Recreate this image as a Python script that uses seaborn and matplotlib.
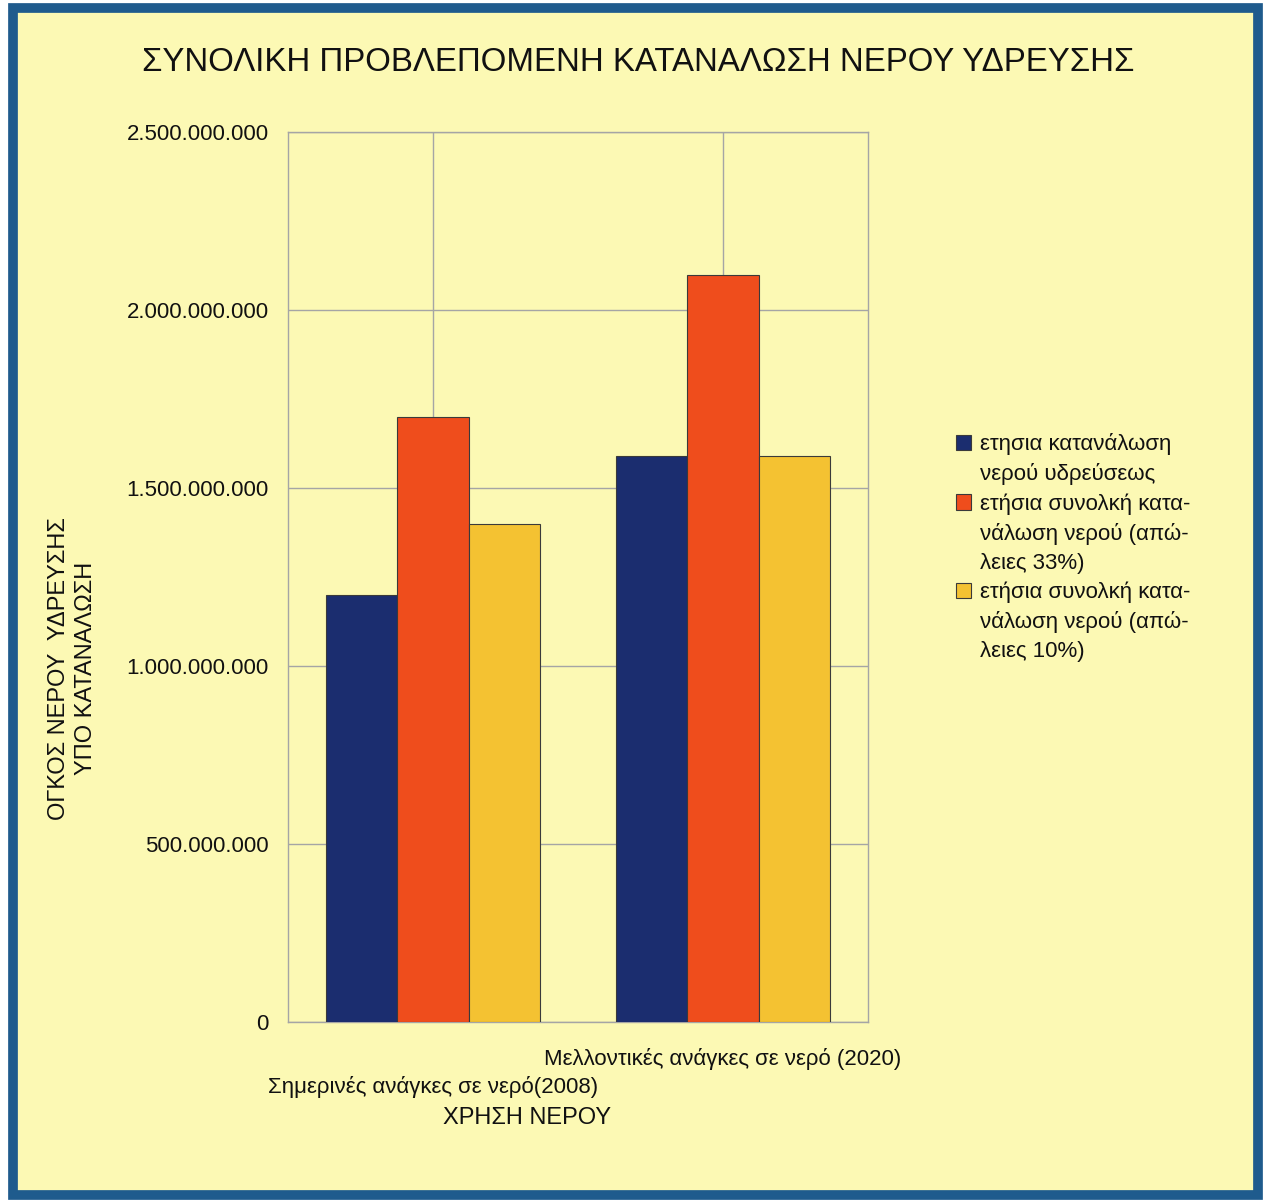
import pandas as pd
import numpy as np
import matplotlib.pyplot as plt
import seaborn as sns
from matplotlib.patches import Rectangle
from matplotlib.ticker import FuncFormatter

categories = ["Σημερινές ανάγκες σε νερό(2008)",
              "Μελλοντικές ανάγκες σε νερό (2020)"]
series = ["ετησια κατανάλωση\nνερού υδρεύσεως",
          "ετήσια συνολκή κατα-\nνάλωση νερού (απώ-\nλειες 33%)",
          "ετήσια συνολκή κατα-\nνάλωση νερού (απώ-\nλειες 10%)"]
current_2008 = [1200000000, 1700000000, 1400000000]
future_2020 = [1590000000, 2100000000, 1590000000]
colors = ["#1b2d6f", "#ef4d1c", "#f4c232"]
yticks = [0, 500000000, 1000000000, 1500000000, 2000000000, 2500000000]

df = pd.DataFrame({
    "category": [categories[0]] * 3 + [categories[1]] * 3,
    "series": series + series,
    "value": current_2008 + future_2020,
})

sns.set_style("white")
plt.rcParams['font.family'] = ['Liberation Sans', 'DejaVu Sans']
bg = "#fcf9b4"

fig = plt.figure(figsize=(12.63, 12.02), dpi=100, facecolor="white")
# blue frame around the whole chart
fig.patches.append(Rectangle((0.0105, 0.006), 0.9855, 0.9875, transform=fig.transFigure,
                             facecolor=bg, edgecolor="#1f5b8d", linewidth=7, zorder=-10))

ax = fig.add_axes([0.228, 0.150, 0.459, 0.740])
ax.set_facecolor(bg)

sns.barplot(data=df, x="category", y="value", hue="series", hue_order=series,
            palette=colors, saturation=1, width=0.74, edgecolor="#3a3a3a", linewidth=0.8,
            ax=ax, zorder=3)

ax.set_xlim(-0.5, 1.5)
ax.set_ylim(0, 2500000000)
ax.set_yticks(yticks)
ax.yaxis.set_major_formatter(FuncFormatter(lambda v, p: f"{int(v):,}".replace(",", ".")))
ax.set_xticks([0, 1])
ax.set_xticklabels(categories)
ax.tick_params(axis="y", labelsize=16, length=7, color="#999999", pad=7, labelcolor="#111111")
ax.tick_params(axis="x", labelsize=16, length=7, color="#999999", labelcolor="#111111")
# staggered category labels
xt = ax.xaxis.get_major_ticks()
xt[0].set_pad(32)
xt[1].set_pad(12)

ax.grid(True, color="#a5a5a5", linewidth=1)
ax.set_axisbelow(True)
for s in ax.spines.values():
    s.set_color("#a5a5a5")
    s.set_linewidth(1)

ax.set_xlabel("")
ax.set_ylabel("")

fig.text(0.505, 0.948, "ΣΥΝΟΛΙΚΗ ΠΡΟΒΛΕΠΟΜΕΝΗ ΚΑΤΑΝΑΛΩΣΗ ΝΕΡΟΥ ΥΔΡΕΥΣΗΣ",
         ha="center", va="center", fontsize=23.8, color="#111111")
fig.text(0.0575, 0.444, "ΟΓΚΟΣ ΝΕΡΟΥ  ΥΔΡΕΥΣΗΣ\nΥΠΟ ΚΑΤΑΝΑΛΩΣΗ", rotation=90,
         ha="center", va="center", fontsize=17, multialignment="center",
         linespacing=1.25, color="#111111")
fig.text(0.417, 0.0695, "ΧΡΗΣΗ ΝΕΡΟΥ", ha="center", va="center", fontsize=17,
         color="#111111")

# legend: one row per text line, square only on the first line of each entry
handles, labels = ax.get_legend_handles_labels()
ax.get_legend().remove()
leg_handles, leg_labels = [], []
for h, lab in zip(handles, labels):
    for i, line in enumerate(lab.split("\n")):
        if i == 0:
            leg_handles.append(h)
        else:
            leg_handles.append(Rectangle((0, 0), 1, 1, facecolor="none", edgecolor="none"))
        leg_labels.append(line)
fig.legend(leg_handles, leg_labels, loc="upper left", bbox_to_anchor=(0.741, 0.656),
           frameon=False, fontsize=16, handlelength=0.7, handleheight=0.7,
           handletextpad=0.4, labelspacing=0.36, labelcolor="#111111")

fig.savefig("out.png", dpi=100, facecolor="white")
